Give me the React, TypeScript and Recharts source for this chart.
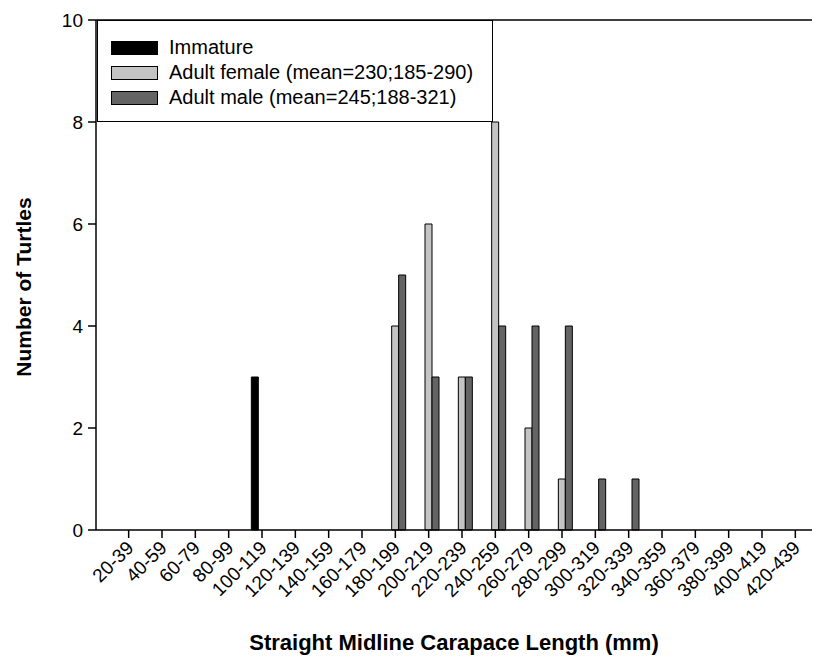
import { BarChart, Bar, XAxis, YAxis, Legend, ReferenceLine } from "recharts";

const ranges = [
  "20-39", "40-59", "60-79", "80-99", "100-119", "120-139", "140-159",
  "160-179", "180-199", "200-219", "220-239", "240-259", "260-279",
  "280-299", "300-319", "320-339", "340-359", "360-379", "380-399",
  "400-419", "420-439",
];
const immature = [0, 0, 0, 0, 3, 0, 0, 0, 0, 0, 0, 0, 0, 0, 0, 0, 0, 0, 0, 0, 0];
const adultFemale = [0, 0, 0, 0, 0, 0, 0, 0, 4, 6, 3, 8, 2, 1, 0, 0, 0, 0, 0, 0, 0];
const adultMale = [0, 0, 0, 0, 0, 0, 0, 0, 5, 3, 3, 4, 4, 4, 1, 1, 0, 0, 0, 0, 0];
const yTicks = [0, 2, 4, 6, 8, 10];

const series = [
  { key: "immature", name: "Immature", color: "#000000" },
  { key: "female", name: "Adult female (mean=230;185-290)", color: "#c4c4c4" },
  { key: "male", name: "Adult male (mean=245;188-321)", color: "#646464" },
];

const data = ranges.map((r, i) => ({
  range: r,
  immature: immature[i],
  female: adultFemale[i],
  male: adultMale[i],
}));

const FONT = "'Liberation Sans', Arial, sans-serif";

function XTick({ x, y, payload }: any) {
  return (
    <text
      x={x + 6}
      y={y + 9}
      transform={`rotate(-45, ${x + 6}, ${y + 9})`}
      textAnchor="end"
      fontSize={19}
      fontFamily={FONT}
      fill="#000"
    >
      {payload.value}
    </text>
  );
}

function LegendBox() {
  return (
    <div
      style={{
        width: 396,
        height: 102,
        boxSizing: "border-box",
        border: "1.5px solid #000",
        background: "#fff",
        paddingTop: 14,
        paddingLeft: 13,
        fontFamily: FONT,
        fontSize: 20,
      }}
    >
      {series.map((s) => (
        <div key={s.key} style={{ display: "flex", alignItems: "center", height: 25 }}>
          <span
            style={{
              display: "inline-block",
              width: 47,
              height: 14,
              boxSizing: "border-box",
              border: "1px solid #000",
              background: s.color,
              marginRight: 11,
            }}
          />
          <span>{s.name}</span>
        </div>
      ))}
    </div>
  );
}

export default function App() {
  return (
    <div style={{ position: "absolute", left: 0, top: 0, width: 817, height: 666, background: "#fff" }}>
      <BarChart
        width={817}
        height={666}
        data={data}
        margin={{ top: 20, right: 5, bottom: 0, left: 0 }}
        barSize={7}
        barGap={0}
      >
        <XAxis
          dataKey="range"
          interval={0}
          padding={{ left: 16, right: 0 }}
          height={136}
          tickSize={8}
          tick={<XTick />}
          axisLine={{ stroke: "#000", strokeWidth: 1.5 }}
          tickLine={{ stroke: "#000", strokeWidth: 1.5 }}
          label={{
            value: "Straight Midline Carapace Length (mm)",
            position: "insideBottom",
            offset: 16,
            fontSize: 22,
            fontWeight: "bold",
            fontFamily: FONT,
            fill: "#000",
          }}
        />
        <YAxis
          domain={[0, 10]}
          ticks={yTicks}
          width={96}
          tickSize={8}
          tickMargin={5}
          tick={{ fontSize: 19, fontFamily: FONT, fill: "#000" }}
          axisLine={{ stroke: "#000", strokeWidth: 1.5 }}
          tickLine={{ stroke: "#000", strokeWidth: 1.5 }}
          label={{
            value: "Number of Turtles",
            angle: -90,
            position: "insideLeft",
            offset: 24,
            dy: 12,
            fontSize: 21,
            fontWeight: "bold",
            fontFamily: FONT,
            fill: "#000",
            style: { textAnchor: "middle" },
          }}
        />
        <ReferenceLine y={10} stroke="#000" strokeWidth={1.5} />
        {series.map((s) => (
          <Bar
            key={s.key}
            dataKey={s.key}
            name={s.name}
            fill={s.color}
            stroke="#000"
            strokeWidth={1}
            isAnimationActive={false}
          />
        ))}
        <Legend
          verticalAlign="middle"
          align="center"
          layout="horizontal"
          content={<LegendBox />}
          wrapperStyle={{ left: 97, top: 20, width: 396, height: 102 }}
        />
      </BarChart>
    </div>
  );
}
